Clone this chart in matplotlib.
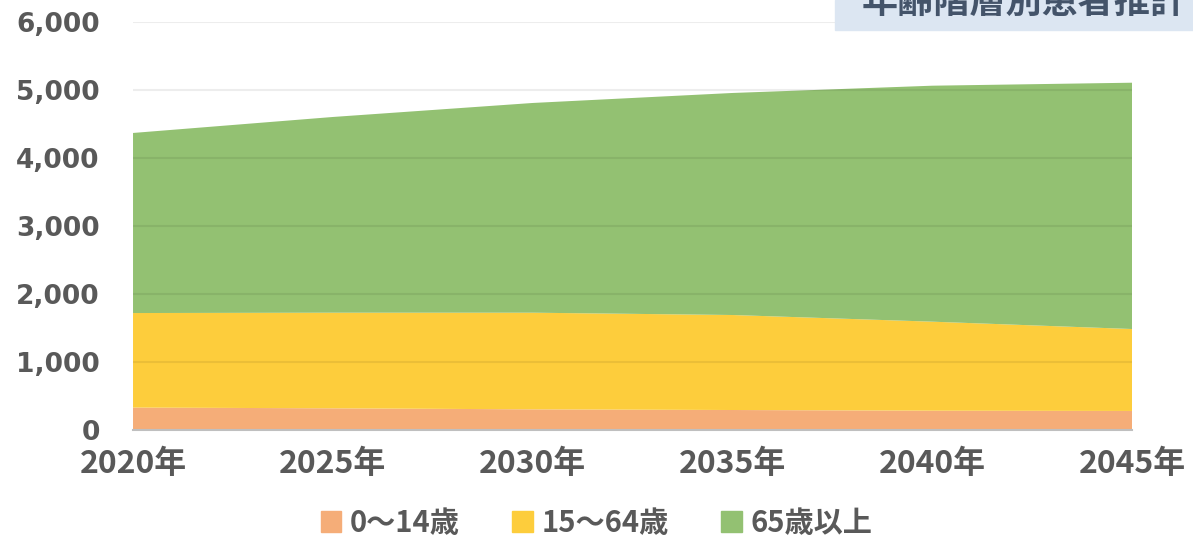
import matplotlib
matplotlib.use("Agg")
import matplotlib.pyplot as plt
from matplotlib.patches import Rectangle, Patch

plt.rcParams['font.family'] = ['Noto Sans CJK JP', 'DejaVu Sans']

years = [2020, 2025, 2030, 2035, 2040, 2045]
year_labels = ["2020年", "2025年", "2030年", "2035年", "2040年", "2045年"]
age_0_14 = [330, 319, 304, 294, 284, 280]
age_15_64 = [1390, 1406, 1421, 1397, 1309, 1205]
age_65_up = [2648, 2878, 3084, 3265, 3470, 3622]
series_names = ["0〜14歳", "15〜64歳", "65歳以上"]
colors = ["#f5ad78", "#fdcd3c", "#93c172"]
yticks = [0, 1000, 2000, 3000, 4000, 5000, 6000]

fig = plt.figure(figsize=(11.93, 5.4), dpi=100)
ax = fig.add_axes([0.1115, 0.2037, 0.8374, 0.7556])

ax.stackplot(years, age_0_14, age_15_64, age_65_up, colors=colors, zorder=2)

ax.set_xlim(2020, 2045)
ax.set_ylim(0, 6000)
ax.set_yticks(yticks)
ax.set_yticklabels(["{:,}".format(v) for v in yticks], family=['DejaVu Sans'],
                   fontweight='bold', fontsize=19, color='#595959')
ax.set_xticks(years)
ax.set_xticklabels(year_labels, fontweight='bold', fontsize=23, color='#595959')
ax.tick_params(length=0)
ax.tick_params(axis='y', pad=24)
ax.tick_params(axis='x', pad=13)

for v in yticks[1:]:
    ax.axhline(v, color='#000000', alpha=0.07, lw=1.5, zorder=3)

for s in ['top', 'right', 'left']:
    ax.spines[s].set_visible(False)
ax.spines['bottom'].set_color('#bfbfbf')
ax.spines['bottom'].set_linewidth(1.5)
ax.spines['bottom'].set_zorder(4)

handles = [Patch(color=c) for c in colors]
fig.legend(handles, series_names, loc='center', bbox_to_anchor=(0.5, 0.032),
           ncol=3, frameon=False, handlelength=0.7, handleheight=0.7,
           handletextpad=0.3, columnspacing=1.8,
           prop={'weight': 'bold', 'size': 21}, labelcolor='#595959')

fig.patches.append(Rectangle((835 / 1193, 1 - 30 / 540), 1, 30 / 540,
                             transform=fig.transFigure, color='#dce6f2', zorder=5))
fig.text(862 / 1193, 1 - 2 / 540, "年齢階層別患者推計", fontsize=26, fontweight='bold',
         color='#44546a', va='center', ha='left', zorder=6)

fig.savefig("out.png", dpi=100)
